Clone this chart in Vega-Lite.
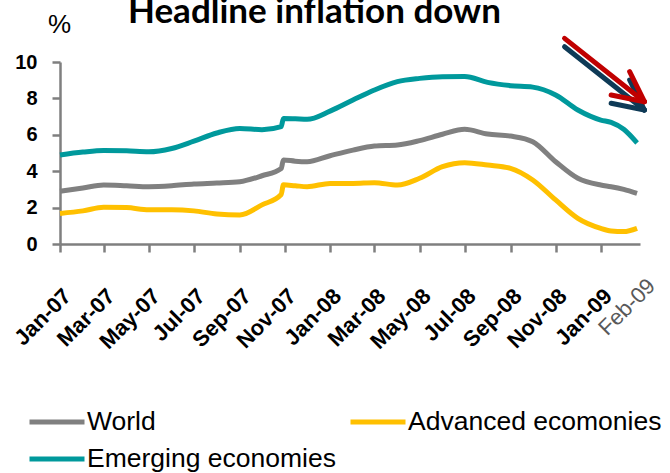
{
  "$schema": "https://vega.github.io/schema/vega-lite/v6.json",
  "width": 580,
  "height": 182,
  "autosize": {"type": "none"},
  "padding": {"left": 60, "top": 62, "right": 30, "bottom": 229},
  "background": "white",
  "title": {
    "text": "Headline inflation down",
    "font": "Lato",
    "fontSize": 35,
    "fontWeight": "bold",
    "color": "black",
    "anchor": "start",
    "dx": 118,
    "baseline": "alphabetic",
    "offset": -47
  },
  "config": {
    "view": {"stroke": null},
    "font": "Liberation Sans"
  },
  "datasets": {
    "series": [
      {"date": "2007/01/01", "series": "World", "value": 2.90},
      {"date": "2007/02/01", "series": "World", "value": 3.08},
      {"date": "2007/03/01", "series": "World", "value": 3.24},
      {"date": "2007/04/01", "series": "World", "value": 3.20},
      {"date": "2007/05/01", "series": "World", "value": 3.15},
      {"date": "2007/06/01", "series": "World", "value": 3.20},
      {"date": "2007/07/01", "series": "World", "value": 3.30},
      {"date": "2007/08/01", "series": "World", "value": 3.35},
      {"date": "2007/09/01", "series": "World", "value": 3.42},
      {"date": "2007/10/01", "series": "World", "value": 3.75},
      {"date": "2007/10/27", "series": "World", "value": 4.15},
      {"date": "2007/10/30", "series": "World", "value": 4.62},
      {"date": "2007/11/15", "series": "World", "value": 4.55},
      {"date": "2007/12/01", "series": "World", "value": 4.52},
      {"date": "2008/01/01", "series": "World", "value": 4.85},
      {"date": "2008/02/01", "series": "World", "value": 5.16},
      {"date": "2008/03/01", "series": "World", "value": 5.38},
      {"date": "2008/04/01", "series": "World", "value": 5.44},
      {"date": "2008/05/01", "series": "World", "value": 5.68},
      {"date": "2008/06/01", "series": "World", "value": 6.03},
      {"date": "2008/07/01", "series": "World", "value": 6.30},
      {"date": "2008/08/01", "series": "World", "value": 6.04},
      {"date": "2008/09/01", "series": "World", "value": 5.93},
      {"date": "2008/10/01", "series": "World", "value": 5.62},
      {"date": "2008/11/01", "series": "World", "value": 4.52},
      {"date": "2008/12/01", "series": "World", "value": 3.61},
      {"date": "2009/01/01", "series": "World", "value": 3.24},
      {"date": "2009/01/15", "series": "World", "value": 3.15},
      {"date": "2009/02/01", "series": "World", "value": 3.00},
      {"date": "2009/02/19", "series": "World", "value": 2.78},
      {"date": "2007/01/01", "series": "Advanced ecomonies", "value": 1.68},
      {"date": "2007/02/01", "series": "Advanced ecomonies", "value": 1.82},
      {"date": "2007/03/01", "series": "Advanced ecomonies", "value": 2.02},
      {"date": "2007/04/01", "series": "Advanced ecomonies", "value": 2.00},
      {"date": "2007/05/01", "series": "Advanced ecomonies", "value": 1.88},
      {"date": "2007/06/01", "series": "Advanced ecomonies", "value": 1.88},
      {"date": "2007/07/01", "series": "Advanced ecomonies", "value": 1.82},
      {"date": "2007/08/01", "series": "Advanced ecomonies", "value": 1.65},
      {"date": "2007/09/01", "series": "Advanced ecomonies", "value": 1.60},
      {"date": "2007/10/01", "series": "Advanced ecomonies", "value": 2.15},
      {"date": "2007/10/27", "series": "Advanced ecomonies", "value": 2.72},
      {"date": "2007/10/30", "series": "Advanced ecomonies", "value": 3.25},
      {"date": "2007/11/15", "series": "Advanced ecomonies", "value": 3.20},
      {"date": "2007/12/01", "series": "Advanced ecomonies", "value": 3.15},
      {"date": "2008/01/01", "series": "Advanced ecomonies", "value": 3.33},
      {"date": "2008/02/01", "series": "Advanced ecomonies", "value": 3.33},
      {"date": "2008/03/01", "series": "Advanced ecomonies", "value": 3.37},
      {"date": "2008/04/01", "series": "Advanced ecomonies", "value": 3.24},
      {"date": "2008/05/01", "series": "Advanced ecomonies", "value": 3.61},
      {"date": "2008/06/01", "series": "Advanced ecomonies", "value": 4.25},
      {"date": "2008/07/01", "series": "Advanced ecomonies", "value": 4.47},
      {"date": "2008/08/01", "series": "Advanced ecomonies", "value": 4.34},
      {"date": "2008/09/01", "series": "Advanced ecomonies", "value": 4.16},
      {"date": "2008/10/01", "series": "Advanced ecomonies", "value": 3.52},
      {"date": "2008/11/01", "series": "Advanced ecomonies", "value": 2.42},
      {"date": "2008/12/01", "series": "Advanced ecomonies", "value": 1.41},
      {"date": "2009/01/01", "series": "Advanced ecomonies", "value": 0.86},
      {"date": "2009/01/15", "series": "Advanced ecomonies", "value": 0.72},
      {"date": "2009/02/01", "series": "Advanced ecomonies", "value": 0.68},
      {"date": "2009/02/19", "series": "Advanced ecomonies", "value": 0.86},
      {"date": "2007/01/01", "series": "Emerging economies", "value": 4.89},
      {"date": "2007/02/01", "series": "Emerging economies", "value": 5.05},
      {"date": "2007/03/01", "series": "Emerging economies", "value": 5.14},
      {"date": "2007/04/01", "series": "Emerging economies", "value": 5.12},
      {"date": "2007/05/01", "series": "Emerging economies", "value": 5.07},
      {"date": "2007/06/01", "series": "Emerging economies", "value": 5.25},
      {"date": "2007/07/01", "series": "Emerging economies", "value": 5.65},
      {"date": "2007/08/01", "series": "Emerging economies", "value": 6.10},
      {"date": "2007/09/01", "series": "Emerging economies", "value": 6.35},
      {"date": "2007/10/01", "series": "Emerging economies", "value": 6.28},
      {"date": "2007/10/27", "series": "Emerging economies", "value": 6.45},
      {"date": "2007/10/30", "series": "Emerging economies", "value": 6.90},
      {"date": "2007/11/15", "series": "Emerging economies", "value": 6.88},
      {"date": "2007/12/01", "series": "Emerging economies", "value": 6.85},
      {"date": "2008/01/01", "series": "Emerging economies", "value": 7.30},
      {"date": "2008/02/01", "series": "Emerging economies", "value": 7.91},
      {"date": "2008/03/01", "series": "Emerging economies", "value": 8.46},
      {"date": "2008/04/01", "series": "Emerging economies", "value": 8.92},
      {"date": "2008/05/01", "series": "Emerging economies", "value": 9.10},
      {"date": "2008/06/01", "series": "Emerging economies", "value": 9.19},
      {"date": "2008/07/01", "series": "Emerging economies", "value": 9.20},
      {"date": "2008/08/01", "series": "Emerging economies", "value": 8.88},
      {"date": "2008/09/01", "series": "Emerging economies", "value": 8.70},
      {"date": "2008/10/01", "series": "Emerging economies", "value": 8.62},
      {"date": "2008/11/01", "series": "Emerging economies", "value": 8.19},
      {"date": "2008/12/01", "series": "Emerging economies", "value": 7.36},
      {"date": "2009/01/01", "series": "Emerging economies", "value": 6.81},
      {"date": "2009/01/15", "series": "Emerging economies", "value": 6.68},
      {"date": "2009/02/01", "series": "Emerging economies", "value": 6.30},
      {"date": "2009/02/19", "series": "Emerging economies", "value": 5.55}
    ],
    "arrows": [
      {"arrow": "navy", "date": "2008/11/13", "value": 10.84, "date2": "2009/03/01", "value2": 7.36},
      {"arrow": "navy", "date": "2009/02/09", "value": 9.01, "date2": "2009/03/01", "value2": 7.36},
      {"arrow": "navy", "date": "2009/01/15", "value": 7.73, "date2": "2009/03/01", "value2": 7.36},
      {"arrow": "red", "date": "2008/11/13", "value": 11.30, "date2": "2009/03/01", "value2": 7.82},
      {"arrow": "red", "date": "2009/02/09", "value": 9.47, "date2": "2009/03/01", "value2": 7.82},
      {"arrow": "red", "date": "2009/01/15", "value": 8.19, "date2": "2009/03/01", "value2": 7.82}
    ],
    "extra": [
      {"date": "2009/03/01", "value": -1.72, "label": "Feb-09"}
    ]
  },
  "encoding": {
    "x": {
      "field": "date",
      "type": "temporal",
      "scale": {"domain": [{"year": 2007, "month": 1, "date": 1}, {"year": 2009, "month": 2, "date": 23}]},
      "axis": {
        "title": null,
        "grid": false,
        "values": [
          {"year": 2007, "month": 1, "date": 1}, {"year": 2007, "month": 3, "date": 1},
          {"year": 2007, "month": 5, "date": 1}, {"year": 2007, "month": 7, "date": 1},
          {"year": 2007, "month": 9, "date": 1}, {"year": 2007, "month": 11, "date": 1},
          {"year": 2008, "month": 1, "date": 1}, {"year": 2008, "month": 3, "date": 1},
          {"year": 2008, "month": 5, "date": 1}, {"year": 2008, "month": 7, "date": 1},
          {"year": 2008, "month": 9, "date": 1}, {"year": 2008, "month": 11, "date": 1},
          {"year": 2009, "month": 1, "date": 1}
        ],
        "format": "%b-%y",
        "labelAngle": -45,
        "labelAlign": "right",
        "labelBaseline": "top",
        "labelFont": "Liberation Sans",
        "labelFontSize": 22,
        "labelFontWeight": "bold",
        "labelColor": "black",
        "labelPadding": 33,
        "labelOverlap": false,
        "labelFlush": false,
        "domainColor": "#7f7f7f",
        "domainWidth": 2.5,
        "tickColor": "#7f7f7f",
        "tickWidth": 2.5,
        "tickSize": 8
      }
    },
    "y": {
      "field": "value",
      "type": "quantitative",
      "scale": {"domain": [0, 10], "nice": false},
      "axis": {
        "values": [0, 2, 4, 6, 8, 10],
        "grid": false,
        "title": "%",
        "titleAngle": 0,
        "titleX": -1,
        "titleY": -30,
        "titleAlign": "center",
        "titleBaseline": "alphabetic",
        "titleFont": "Liberation Sans",
        "titleFontSize": 26,
        "titleFontWeight": "normal",
        "titleColor": "black",
        "labelFont": "Liberation Sans",
        "labelFontSize": 20,
        "labelFontWeight": "bold",
        "labelColor": "black",
        "labelPadding": 15,
        "labelOverlap": false,
        "labelFlush": false,
        "domainColor": "#7f7f7f",
        "domainWidth": 2.5,
        "tickColor": "#7f7f7f",
        "tickWidth": 2.5,
        "tickSize": 8
      }
    }
  },
  "layer": [
    {
      "data": {"name": "series"},
      "mark": {"type": "line", "strokeWidth": 5, "interpolate": "monotone", "clip": false},
      "encoding": {
        "color": {
          "field": "series",
          "type": "nominal",
          "scale": {
            "domain": ["World", "Advanced ecomonies", "Emerging economies"],
            "range": ["#808080", "#FFC000", "#00999C"]
          },
          "legend": {
            "title": null,
            "orient": "none",
            "direction": "horizontal",
            "legendX": -33,
            "legendY": 345,
            "columns": 2,
            "columnPadding": 12,
            "rowPadding": 7,
            "clipHeight": 30,
            "symbolType": "stroke",
            "symbolSize": 3025,
            "symbolStrokeWidth": 5,
            "labelFont": "Liberation Sans",
            "labelFontSize": 26.5,
            "labelColor": "black",
            "labelOffset": 0,
            "labelLimit": 400,
            "padding": 0
          }
        }
      }
    },
    {
      "data": {"name": "arrows"},
      "transform": [{"filter": "datum.arrow === 'navy'"}],
      "mark": {"type": "rule", "color": "#0E3A56", "strokeWidth": 5, "strokeCap": "round", "clip": false},
      "encoding": {
        "x2": {"field": "date2"},
        "y2": {"field": "value2"}
      }
    },
    {
      "data": {"name": "arrows"},
      "transform": [{"filter": "datum.arrow === 'red'"}],
      "mark": {"type": "rule", "color": "#C00000", "strokeWidth": 5, "strokeCap": "round", "clip": false},
      "encoding": {
        "x2": {"field": "date2"},
        "y2": {"field": "value2"}
      }
    },
    {
      "data": {"name": "extra"},
      "mark": {"type": "text", "angle": -45, "align": "right", "baseline": "top", "font": "Liberation Sans", "fontSize": 22, "color": "#595959", "clip": false},
      "encoding": {
        "text": {"field": "label"}
      }
    }
  ]
}
